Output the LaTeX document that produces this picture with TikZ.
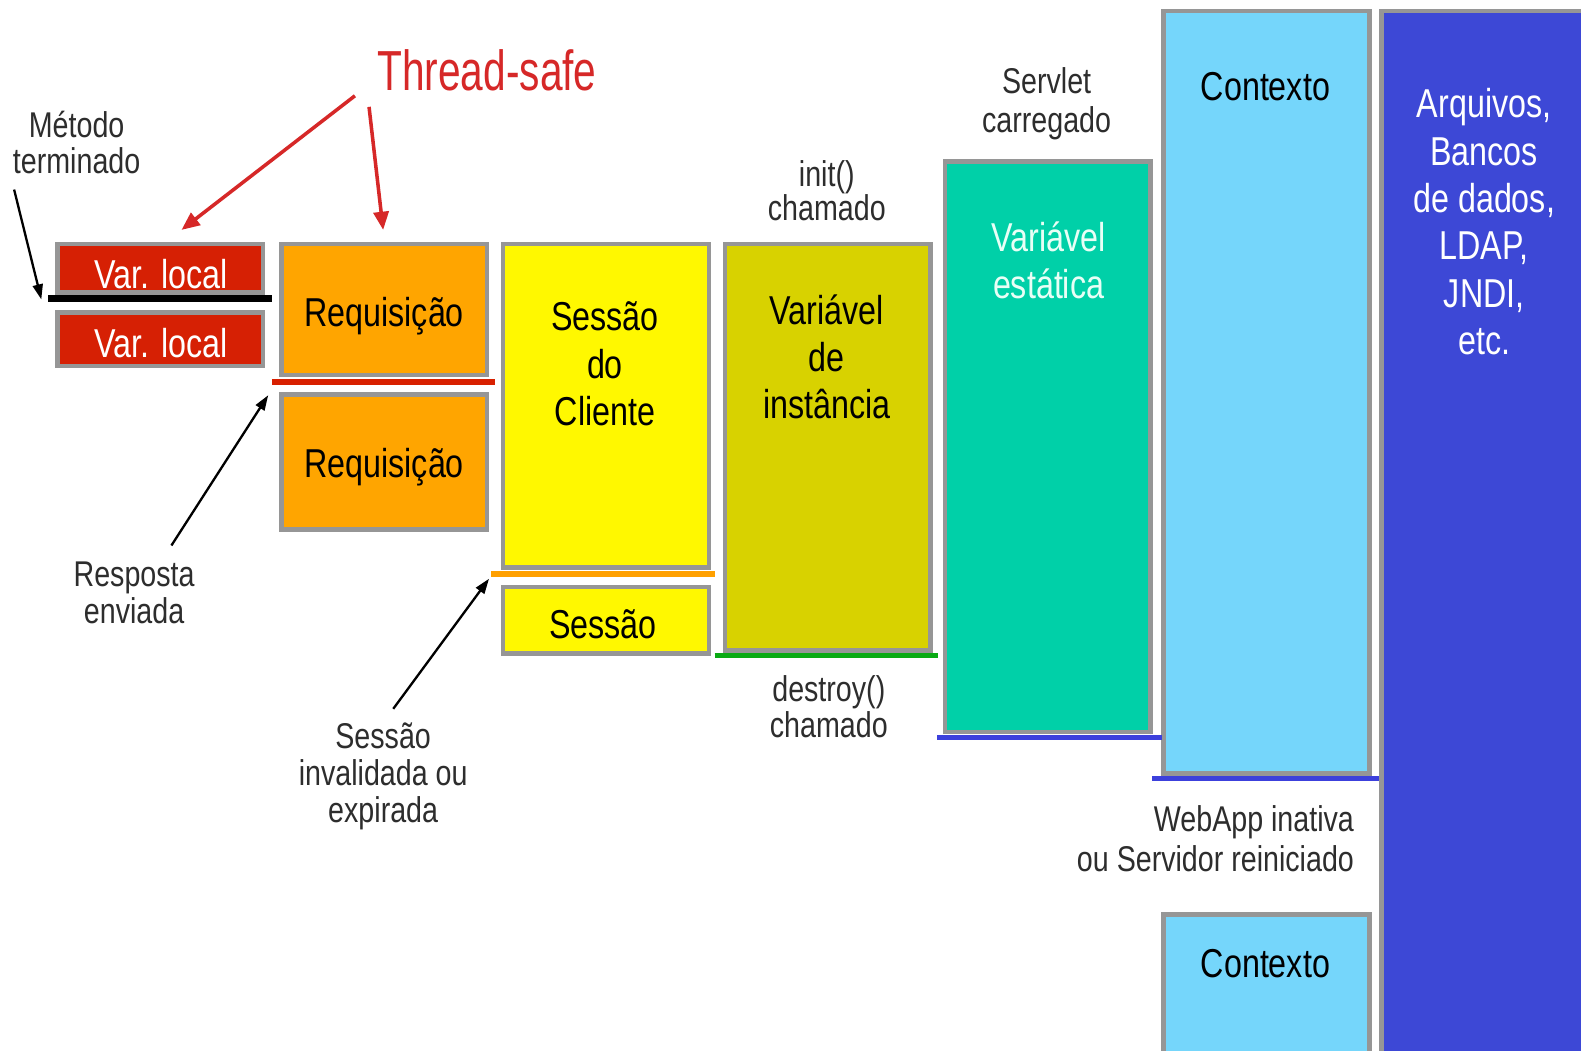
\documentclass[tikz,border=0pt]{standalone}
\usepackage{fontspec}
\setmainfont{Liberation Sans}[FakeStretch=0.8]
\newfontfamily\tsfont{Liberation Sans}[FakeStretch=0.72]
\usetikzlibrary{arrows.meta,fit,calc}

\definecolor{bordergray}{RGB}{150,150,150}
\definecolor{varred}{RGB}{214,32,4}
\definecolor{reqorange}{RGB}{255,165,0}
\definecolor{sessyellow}{RGB}{255,248,0}
\definecolor{instolive}{RGB}{216,210,0}
\definecolor{statteal}{RGB}{0,208,168}
\definecolor{ctxblue}{RGB}{117,214,251}
\definecolor{resblue}{RGB}{61,72,214}
\definecolor{tsred}{RGB}{214,40,40}
\definecolor{linered}{RGB}{216,32,0}
\definecolor{lineorange}{RGB}{255,160,0}
\definecolor{linegreen}{RGB}{10,170,20}
\definecolor{lineblue}{RGB}{60,64,220}
\definecolor{labelgray}{RGB}{45,45,45}
\definecolor{statwhite}{RGB}{232,255,246}

\begin{document}
\begin{tikzpicture}[x=1pt,y=-1pt,
  scopebox/.style={draw=bordergray, line width=4.5pt, inner sep=0pt},
  boxtext/.style={align=center, text=black, font=\fontsize{40}{47}\selectfont, inner sep=0pt},
  lbl/.style={align=center, text=labelgray, inner sep=0pt},
  endline/.style={line width=6pt},
  blackarrow/.style={line width=2.3pt, -{Triangle[length=15pt,width=10pt]}},
  redarrow/.style={draw=tsred, line width=3.5pt, -{Triangle[length=18pt,width=15pt]}, fill=tsred}
]
\useasboundingbox (0,0) rectangle (1568,1042);
\fill[white] (0,0) rectangle (1568,1042);
\clip (0,0) rectangle (1568,1042);

% ---- scope boxes ----
\node[scopebox, fill=varred,     fit={(57,242) (261,290)}]   (var1) {};
\node[scopebox, fill=varred,     fit={(57,310) (261,363)}]   (var2) {};
\node[scopebox, fill=reqorange,  fit={(279,242) (483,372)}]  (req1) {};
\node[scopebox, fill=reqorange,  fit={(279,391) (483,525)}]  (req2) {};
\node[scopebox, fill=sessyellow, fit={(499,242) (703,563)}]  (sess1) {};
\node[scopebox, fill=sessyellow, fit={(499,582) (703,648)}]  (sess2) {};
\node[scopebox, fill=instolive,  fit={(719,242) (923,645)}]  (inst) {};
\node[scopebox, fill=statteal,   fit={(937,160) (1141,726)}] (stat) {};
\node[scopebox, fill=ctxblue,    fit={(1154,11) (1358,767)}] (ctx1) {};
\node[scopebox, fill=ctxblue,    fit={(1154,907) (1358,1060)}] (ctx2) {};
\node[scopebox, fill=resblue,    fit={(1370,11) (1600,1060)}] (res) {};

% ---- end-of-life lines ----
\draw[endline, black, line width=7pt] ($(var1.south west)+(-7,4)$) -- ($(var1.south east)+(7,4)$);
\draw[endline, linered] ($(req1.south west)+(-7,5)$) -- ($(req1.south east)+(6,5)$);
\draw[endline, lineorange, line width=5pt] ($(sess1.south west)+(-10,4)$) -- ($(sess1.south east)+(4,4)$);
\draw[endline, linegreen, line width=5pt] ($(inst.south west)+(-8,3)$) -- ($(inst.south east)+(5,3)$);
\draw[endline, lineblue, line width=5pt] ($(stat.south west)+(-5,3)$) -- ($(stat.south east)+(9,3)$);
\draw[endline, lineblue, line width=5pt] ($(ctx1.south west)+(-9,3)$) -- ($(ctx1.south east)+(7,3)$);

% ---- texts inside boxes ----
\node[boxtext, text=white] (var1t) at (160,272) {Var. local};
\node[boxtext, text=white] (var2t) at (160,340) {Var. local};
\node[boxtext] (req1t) at (381,314) {Requisição};
\node[boxtext] (req2t) at (381,463) {Requisição};
\node[boxtext] (sess1t) at (600,361) {Sessão\\do\\Cliente};
\node[boxtext] (sess2t) at (598,619) {Sessão};
\node[boxtext] (instt) at (820,354) {Variável\\de\\instância};
\node[boxtext, text=statwhite] (statt) at (1040,258) {Variável\\estática};
\node[boxtext] (ctx1t) at (1255,86) {Contexto};
\node[boxtext] (ctx2t) at (1255,956) {Contexto};
\node[boxtext, text=white] (rest) at (1472,220) {Arquivos,\\Bancos\\de dados,\\LDAP,\\JNDI,\\etc.};

% ---- labels ----
\node[inner sep=0pt, text=tsred, font=\tsfont\fontsize{56}{60}\selectfont] (ts) at (483,70) {Thread-safe};
\node[lbl, font=\fontsize{35.5}{36}\selectfont] (metodo) at (76,141) {Método\\terminado};
\node[lbl, font=\fontsize{35.5}{37}\selectfont] (resposta) at (133,588) {Resposta\\enviada};
\node[lbl, font=\fontsize{35.5}{37}\selectfont] (invalida) at (380,770) {Sessão\\invalidada ou\\expirada};
\node[lbl, font=\fontsize{35.5}{31}\selectfont] (init) at (820,189) {init()\\chamado};
\node[lbl, font=\fontsize{35.5}{35}\selectfont] (destroy) at (822,701) {destroy()\\chamado};
\node[lbl, font=\fontsize{35.5}{38}\selectfont] (servlet) at (1038,103) {Servlet\\carregado};
\node[lbl, align=right, font=\fontsize{35.5}{40}\selectfont, anchor=east] (webapp) at (1343,832) {WebApp inativa\\ou Servidor reiniciado};

% ---- arrow end points ----
\coordinate (tsA) at (352,95);
\coordinate (tsB) at (366,106);
\coordinate (var1tip) at (180,228);
\coordinate (req1tip) at (380,228);
\coordinate (metodoA) at (14,188);
\coordinate (var1end) at (41,297);
\coordinate (respostaA) at (170,541);
\coordinate (req1end) at (266,392);
\coordinate (invalidaA) at (390,703);
\coordinate (sess1end) at (485,574);

% ---- arrows ----
\draw[redarrow] (tsA) -- (var1tip);
\draw[redarrow] (tsB) -- (req1tip);
\draw[blackarrow] (metodoA) -- (var1end);
\draw[blackarrow] (respostaA) -- (req1end);
\draw[blackarrow] (invalidaA) -- (sess1end);
\end{tikzpicture}
\end{document}
